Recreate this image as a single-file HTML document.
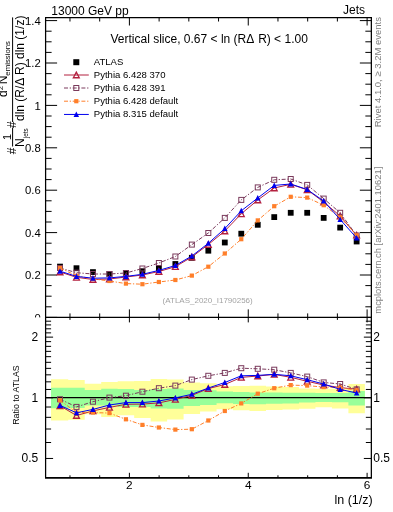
<!DOCTYPE html><html><head><meta charset="utf-8"><style>html,body{margin:0;padding:0;background:#fff;width:393px;height:512px;overflow:hidden}svg{display:block;will-change:transform}text{font-family:"Liberation Sans",sans-serif}</style></head><body><svg width="393" height="512" viewBox="0 0 393 512"><defs><clipPath id="c1"><rect x="45.6" y="17.5" width="325.75" height="299.9"/></clipPath><clipPath id="c2"><rect x="45.6" y="317.4" width="325.75" height="160.40000000000003"/></clipPath></defs><path d="M45.6,317.40h11.5M371.35,317.40h-11.5M45.6,306.80h6M371.35,306.80h-6M45.6,296.20h6M371.35,296.20h-6M45.6,285.60h6M371.35,285.60h-6M45.6,275.00h11.5M371.35,275.00h-11.5M45.6,264.40h6M371.35,264.40h-6M45.6,253.80h6M371.35,253.80h-6M45.6,243.20h6M371.35,243.20h-6M45.6,232.60h11.5M371.35,232.60h-11.5M45.6,222.00h6M371.35,222.00h-6M45.6,211.40h6M371.35,211.40h-6M45.6,200.80h6M371.35,200.80h-6M45.6,190.20h11.5M371.35,190.20h-11.5M45.6,179.60h6M371.35,179.60h-6M45.6,169.00h6M371.35,169.00h-6M45.6,158.40h6M371.35,158.40h-6M45.6,147.80h11.5M371.35,147.80h-11.5M45.6,137.20h6M371.35,137.20h-6M45.6,126.60h6M371.35,126.60h-6M45.6,116.00h6M371.35,116.00h-6M45.6,105.40h11.5M371.35,105.40h-11.5M45.6,94.80h6M371.35,94.80h-6M45.6,84.20h6M371.35,84.20h-6M45.6,73.60h6M371.35,73.60h-6M45.6,63.00h11.5M371.35,63.00h-11.5M45.6,52.40h6M371.35,52.40h-6M45.6,41.80h6M371.35,41.80h-6M45.6,31.20h6M371.35,31.20h-6M45.6,20.60h11.5M371.35,20.60h-11.5M69.97,17.5v4M69.97,317.4v-4M99.69,17.5v4M99.69,317.4v-4M129.40,17.5v8M129.40,317.4v-8M159.11,17.5v4M159.11,317.4v-4M188.82,17.5v4M188.82,317.4v-4M218.54,17.5v4M218.54,317.4v-4M248.25,17.5v8M248.25,317.4v-8M277.96,17.5v4M277.96,317.4v-4M307.68,17.5v4M307.68,317.4v-4M337.39,17.5v4M337.39,317.4v-4M367.10,17.5v8M367.10,317.4v-8" stroke="#000" stroke-width="1" fill="none"/><text x="40.8" y="321.60" font-size="11.3" text-anchor="end">0</text><text x="40.8" y="279.20" font-size="11.3" text-anchor="end">0.2</text><text x="40.8" y="236.80" font-size="11.3" text-anchor="end">0.4</text><text x="40.8" y="194.40" font-size="11.3" text-anchor="end">0.6</text><text x="40.8" y="152.00" font-size="11.3" text-anchor="end">0.8</text><text x="40.8" y="109.60" font-size="11.3" text-anchor="end">1</text><text x="40.8" y="67.20" font-size="11.3" text-anchor="end">1.2</text><text x="40.8" y="24.80" font-size="11.3" text-anchor="end">1.4</text><text x="51.3" y="14.6" font-size="12">13000 GeV pp</text><text x="365" y="13.7" font-size="12" text-anchor="end">Jets</text><text x="110.5" y="42.8" font-size="12">Vertical slice, 0.67 &lt; ln (RΔ<tspan dx="1.2"> </tspan>R) &lt; 1.00</text><text x="162.6" y="302.9" font-size="8" fill="#a3a3a3">(ATLAS_2020_I1790256)</text><text x="93.8" y="64.90" font-size="9.55">ATLAS</text><text x="93.8" y="77.70" font-size="9.55">Pythia 6.428 370</text><text x="93.8" y="90.70" font-size="9.55">Pythia 6.428 391</text><text x="93.8" y="103.90" font-size="9.55">Pythia 6.428 default</text><text x="93.8" y="117.15" font-size="9.55">Pythia 8.315 default</text><rect x="73.30" y="59.20" width="6" height="6" fill="#000"/><line x1="64" y1="75.0" x2="88.8" y2="75.0" stroke="#b3203f" stroke-width="1.0"/><polygon points="76.30,72.10 79.25,77.75 73.35,77.75" fill="none" stroke="#b3203f" stroke-width="1.3"/><line x1="64" y1="88.0" x2="88.8" y2="88.0" stroke="#7a3a5c" stroke-width="1.0" stroke-dasharray="4,1.7,1.3,1.7"/><rect x="73.80" y="85.50" width="5" height="5" fill="none" stroke="#7a3a5c" stroke-width="1.0"/><line x1="64" y1="101.2" x2="88.8" y2="101.2" stroke="#ff7f2a" stroke-width="1.0" stroke-dasharray="4,1.7,1.3,1.7"/><rect x="74.20" y="99.10" width="4.2" height="4.2" fill="#ff7f2a"/><line x1="64" y1="114.45" x2="88.8" y2="114.45" stroke="#0000ee" stroke-width="1.0"/><polygon points="76.30,111.45 79.05,116.95 73.55,116.95" fill="#0000ee"/><rect x="57.10" y="263.70" width="5.8" height="5.8" fill="#000"/><rect x="73.58" y="265.30" width="5.8" height="5.8" fill="#000"/><rect x="90.06" y="269.20" width="5.8" height="5.8" fill="#000"/><rect x="106.54" y="271.10" width="5.8" height="5.8" fill="#000"/><rect x="123.02" y="270.10" width="5.8" height="5.8" fill="#000"/><rect x="139.50" y="268.30" width="5.8" height="5.8" fill="#000"/><rect x="155.98" y="265.40" width="5.8" height="5.8" fill="#000"/><rect x="172.46" y="261.10" width="5.8" height="5.8" fill="#000"/><rect x="188.94" y="254.90" width="5.8" height="5.8" fill="#000"/><rect x="205.42" y="247.80" width="5.8" height="5.8" fill="#000"/><rect x="221.90" y="239.60" width="5.8" height="5.8" fill="#000"/><rect x="238.38" y="230.80" width="5.8" height="5.8" fill="#000"/><rect x="254.86" y="221.90" width="5.8" height="5.8" fill="#000"/><rect x="271.34" y="214.20" width="5.8" height="5.8" fill="#000"/><rect x="287.82" y="209.90" width="5.8" height="5.8" fill="#000"/><rect x="304.30" y="209.90" width="5.8" height="5.8" fill="#000"/><rect x="320.78" y="215.00" width="5.8" height="5.8" fill="#000"/><rect x="337.26" y="224.70" width="5.8" height="5.8" fill="#000"/><rect x="353.74" y="238.60" width="5.8" height="5.8" fill="#000"/><polyline points="60.00,272.00 76.48,277.30 92.96,279.50 109.44,279.00 125.92,277.00 142.40,275.00 158.88,271.50 175.36,266.70 191.84,257.00 208.32,244.50 224.80,231.00 241.28,213.80 257.76,200.00 274.24,188.00 290.72,184.30 307.20,189.80 323.68,202.00 340.16,216.00 356.64,235.20" fill="none" stroke="#b3203f" stroke-width="1.0"  clip-path="url(#c1)"/><polygon points="60.00,269.10 62.95,274.75 57.05,274.75" fill="none" stroke="#b3203f" stroke-width="1.3"/><polygon points="76.48,274.40 79.43,280.05 73.53,280.05" fill="none" stroke="#b3203f" stroke-width="1.3"/><polygon points="92.96,276.60 95.91,282.25 90.01,282.25" fill="none" stroke="#b3203f" stroke-width="1.3"/><polygon points="109.44,276.10 112.39,281.75 106.49,281.75" fill="none" stroke="#b3203f" stroke-width="1.3"/><polygon points="125.92,274.10 128.87,279.75 122.97,279.75" fill="none" stroke="#b3203f" stroke-width="1.3"/><polygon points="142.40,272.10 145.35,277.75 139.45,277.75" fill="none" stroke="#b3203f" stroke-width="1.3"/><polygon points="158.88,268.60 161.83,274.25 155.93,274.25" fill="none" stroke="#b3203f" stroke-width="1.3"/><polygon points="175.36,263.80 178.31,269.45 172.41,269.45" fill="none" stroke="#b3203f" stroke-width="1.3"/><polygon points="191.84,254.10 194.79,259.75 188.89,259.75" fill="none" stroke="#b3203f" stroke-width="1.3"/><polygon points="208.32,241.60 211.27,247.25 205.37,247.25" fill="none" stroke="#b3203f" stroke-width="1.3"/><polygon points="224.80,228.10 227.75,233.75 221.85,233.75" fill="none" stroke="#b3203f" stroke-width="1.3"/><polygon points="241.28,210.90 244.23,216.55 238.33,216.55" fill="none" stroke="#b3203f" stroke-width="1.3"/><polygon points="257.76,197.10 260.71,202.75 254.81,202.75" fill="none" stroke="#b3203f" stroke-width="1.3"/><polygon points="274.24,185.10 277.19,190.75 271.29,190.75" fill="none" stroke="#b3203f" stroke-width="1.3"/><polygon points="290.72,181.40 293.67,187.05 287.77,187.05" fill="none" stroke="#b3203f" stroke-width="1.3"/><polygon points="307.20,186.90 310.15,192.55 304.25,192.55" fill="none" stroke="#b3203f" stroke-width="1.3"/><polygon points="323.68,199.10 326.63,204.75 320.73,204.75" fill="none" stroke="#b3203f" stroke-width="1.3"/><polygon points="340.16,213.10 343.11,218.75 337.21,218.75" fill="none" stroke="#b3203f" stroke-width="1.3"/><polygon points="356.64,232.30 359.59,237.95 353.69,237.95" fill="none" stroke="#b3203f" stroke-width="1.3"/><polyline points="60.00,268.00 76.48,272.70 92.96,274.00 109.44,274.00 125.92,273.00 142.40,268.50 158.88,263.00 175.36,256.50 191.84,244.60 208.32,233.00 224.80,217.90 241.28,199.90 257.76,187.40 274.24,179.80 290.72,179.00 307.20,184.90 323.68,198.60 340.16,212.80 356.64,235.50" fill="none" stroke="#7a3a5c" stroke-width="1.0" stroke-dasharray="4,1.7,1.3,1.7" clip-path="url(#c1)"/><rect x="57.50" y="265.50" width="5" height="5" fill="none" stroke="#7a3a5c" stroke-width="1.0"/><rect x="73.98" y="270.20" width="5" height="5" fill="none" stroke="#7a3a5c" stroke-width="1.0"/><rect x="90.46" y="271.50" width="5" height="5" fill="none" stroke="#7a3a5c" stroke-width="1.0"/><rect x="106.94" y="271.50" width="5" height="5" fill="none" stroke="#7a3a5c" stroke-width="1.0"/><rect x="123.42" y="270.50" width="5" height="5" fill="none" stroke="#7a3a5c" stroke-width="1.0"/><rect x="139.90" y="266.00" width="5" height="5" fill="none" stroke="#7a3a5c" stroke-width="1.0"/><rect x="156.38" y="260.50" width="5" height="5" fill="none" stroke="#7a3a5c" stroke-width="1.0"/><rect x="172.86" y="254.00" width="5" height="5" fill="none" stroke="#7a3a5c" stroke-width="1.0"/><rect x="189.34" y="242.10" width="5" height="5" fill="none" stroke="#7a3a5c" stroke-width="1.0"/><rect x="205.82" y="230.50" width="5" height="5" fill="none" stroke="#7a3a5c" stroke-width="1.0"/><rect x="222.30" y="215.40" width="5" height="5" fill="none" stroke="#7a3a5c" stroke-width="1.0"/><rect x="238.78" y="197.40" width="5" height="5" fill="none" stroke="#7a3a5c" stroke-width="1.0"/><rect x="255.26" y="184.90" width="5" height="5" fill="none" stroke="#7a3a5c" stroke-width="1.0"/><rect x="271.74" y="177.30" width="5" height="5" fill="none" stroke="#7a3a5c" stroke-width="1.0"/><rect x="288.22" y="176.50" width="5" height="5" fill="none" stroke="#7a3a5c" stroke-width="1.0"/><rect x="304.70" y="182.40" width="5" height="5" fill="none" stroke="#7a3a5c" stroke-width="1.0"/><rect x="321.18" y="196.10" width="5" height="5" fill="none" stroke="#7a3a5c" stroke-width="1.0"/><rect x="337.66" y="210.30" width="5" height="5" fill="none" stroke="#7a3a5c" stroke-width="1.0"/><rect x="354.14" y="233.00" width="5" height="5" fill="none" stroke="#7a3a5c" stroke-width="1.0"/><polyline points="60.00,268.00 76.48,275.80 92.96,278.90 109.44,281.00 125.92,283.60 142.40,284.20 158.88,282.00 175.36,280.00 191.84,275.60 208.32,266.70 224.80,253.50 241.28,239.20 257.76,220.40 274.24,206.20 290.72,196.80 307.20,197.60 323.68,205.20 340.16,217.30 356.64,235.30" fill="none" stroke="#ff7f2a" stroke-width="1.0" stroke-dasharray="4,1.7,1.3,1.7" clip-path="url(#c1)"/><rect x="57.90" y="265.90" width="4.2" height="4.2" fill="#ff7f2a"/><rect x="74.38" y="273.70" width="4.2" height="4.2" fill="#ff7f2a"/><rect x="90.86" y="276.80" width="4.2" height="4.2" fill="#ff7f2a"/><rect x="107.34" y="278.90" width="4.2" height="4.2" fill="#ff7f2a"/><rect x="123.82" y="281.50" width="4.2" height="4.2" fill="#ff7f2a"/><rect x="140.30" y="282.10" width="4.2" height="4.2" fill="#ff7f2a"/><rect x="156.78" y="279.90" width="4.2" height="4.2" fill="#ff7f2a"/><rect x="173.26" y="277.90" width="4.2" height="4.2" fill="#ff7f2a"/><rect x="189.74" y="273.50" width="4.2" height="4.2" fill="#ff7f2a"/><rect x="206.22" y="264.60" width="4.2" height="4.2" fill="#ff7f2a"/><rect x="222.70" y="251.40" width="4.2" height="4.2" fill="#ff7f2a"/><rect x="239.18" y="237.10" width="4.2" height="4.2" fill="#ff7f2a"/><rect x="255.66" y="218.30" width="4.2" height="4.2" fill="#ff7f2a"/><rect x="272.14" y="204.10" width="4.2" height="4.2" fill="#ff7f2a"/><rect x="288.62" y="194.70" width="4.2" height="4.2" fill="#ff7f2a"/><rect x="305.10" y="195.50" width="4.2" height="4.2" fill="#ff7f2a"/><rect x="321.58" y="203.10" width="4.2" height="4.2" fill="#ff7f2a"/><rect x="338.06" y="215.20" width="4.2" height="4.2" fill="#ff7f2a"/><rect x="354.54" y="233.20" width="4.2" height="4.2" fill="#ff7f2a"/><polyline points="60.00,271.20 76.48,276.40 92.96,278.20 109.44,277.90 125.92,276.40 142.40,274.30 158.88,270.40 175.36,265.50 191.84,256.00 208.32,243.30 224.80,228.60 241.28,210.80 257.76,198.00 274.24,185.40 290.72,184.00 307.20,189.50 323.68,201.00 340.16,219.50 356.64,238.00" fill="none" stroke="#0000ee" stroke-width="1.0"  clip-path="url(#c1)"/><polygon points="60.00,268.20 62.75,273.70 57.25,273.70" fill="#0000ee"/><polygon points="76.48,273.40 79.23,278.90 73.73,278.90" fill="#0000ee"/><polygon points="92.96,275.20 95.71,280.70 90.21,280.70" fill="#0000ee"/><polygon points="109.44,274.90 112.19,280.40 106.69,280.40" fill="#0000ee"/><polygon points="125.92,273.40 128.67,278.90 123.17,278.90" fill="#0000ee"/><polygon points="142.40,271.30 145.15,276.80 139.65,276.80" fill="#0000ee"/><polygon points="158.88,267.40 161.63,272.90 156.13,272.90" fill="#0000ee"/><polygon points="175.36,262.50 178.11,268.00 172.61,268.00" fill="#0000ee"/><polygon points="191.84,253.00 194.59,258.50 189.09,258.50" fill="#0000ee"/><polygon points="208.32,240.30 211.07,245.80 205.57,245.80" fill="#0000ee"/><polygon points="224.80,225.60 227.55,231.10 222.05,231.10" fill="#0000ee"/><polygon points="241.28,207.80 244.03,213.30 238.53,213.30" fill="#0000ee"/><polygon points="257.76,195.00 260.51,200.50 255.01,200.50" fill="#0000ee"/><polygon points="274.24,182.40 276.99,187.90 271.49,187.90" fill="#0000ee"/><polygon points="290.72,181.00 293.47,186.50 287.97,186.50" fill="#0000ee"/><polygon points="307.20,186.50 309.95,192.00 304.45,192.00" fill="#0000ee"/><polygon points="323.68,198.00 326.43,203.50 320.93,203.50" fill="#0000ee"/><polygon points="340.16,216.50 342.91,222.00 337.41,222.00" fill="#0000ee"/><polygon points="356.64,235.00 359.39,240.50 353.89,240.50" fill="#0000ee"/><rect x="0" y="317.4" width="393" height="194.60000000000002" fill="#fff"/><path d="M51.00,379.20 L68.24,379.20 L68.24,379.90 L84.72,379.90 L84.72,383.80 L101.20,383.80 L101.20,381.90 L117.68,381.90 L117.68,381.20 L134.16,381.20 L134.16,380.90 L150.64,380.90 L150.64,378.90 L167.12,378.90 L167.12,379.60 L183.60,379.60 L183.60,382.50 L200.08,382.50 L200.08,383.20 L216.56,383.20 L216.56,386.30 L233.04,386.30 L233.04,386.10 L249.52,386.10 L249.52,385.80 L266.00,385.80 L266.00,386.40 L282.48,386.40 L282.48,386.90 L298.96,386.90 L298.96,388.40 L315.44,388.40 L315.44,388.70 L331.92,388.70 L331.92,388.70 L348.40,388.70 L348.40,384.10 L364.88,384.10 L364.88,413.30 L348.40,413.30 L348.40,408.40 L331.92,408.40 L331.92,407.20 L315.44,407.20 L315.44,408.70 L298.96,408.70 L298.96,409.50 L282.48,409.50 L282.48,410.00 L266.00,410.00 L266.00,411.00 L249.52,411.00 L249.52,410.30 L233.04,410.30 L233.04,409.30 L216.56,409.30 L216.56,411.50 L200.08,411.50 L200.08,414.10 L183.60,414.10 L183.60,419.60 L167.12,419.60 L167.12,421.40 L150.64,421.40 L150.64,418.00 L134.16,418.00 L134.16,415.30 L117.68,415.30 L117.68,417.00 L101.20,417.00 L101.20,414.20 L84.72,414.20 L84.72,419.80 L68.24,419.80 L68.24,420.50 L51.00,420.50Z" fill="#ffff99"/><path d="M51.00,387.70 L68.24,387.70 L68.24,387.70 L84.72,387.70 L84.72,390.00 L101.20,390.00 L101.20,388.80 L117.68,388.80 L117.68,389.10 L134.16,389.10 L134.16,390.00 L150.64,390.00 L150.64,389.10 L167.12,389.10 L167.12,388.50 L183.60,388.50 L183.60,390.00 L200.08,390.00 L200.08,390.20 L216.56,390.20 L216.56,391.60 L233.04,391.60 L233.04,392.10 L249.52,392.10 L249.52,392.50 L266.00,392.50 L266.00,392.50 L282.48,392.50 L282.48,392.70 L298.96,392.70 L298.96,392.80 L315.44,392.80 L315.44,393.00 L331.92,393.00 L331.92,393.00 L348.40,393.00 L348.40,391.00 L364.88,391.00 L364.88,405.40 L348.40,405.40 L348.40,402.30 L331.92,402.30 L331.92,401.90 L315.44,401.90 L315.44,402.60 L298.96,402.60 L298.96,403.40 L282.48,403.40 L282.48,403.70 L266.00,403.70 L266.00,404.20 L249.52,404.20 L249.52,403.90 L233.04,403.90 L233.04,403.20 L216.56,403.20 L216.56,404.90 L200.08,404.90 L200.08,406.00 L183.60,406.00 L183.60,408.70 L167.12,408.70 L167.12,408.40 L150.64,408.40 L150.64,406.90 L134.16,406.90 L134.16,406.90 L117.68,406.90 L117.68,405.50 L101.20,405.50 L101.20,405.60 L84.72,405.60 L84.72,408.10 L68.24,408.10 L68.24,408.30 L51.00,408.30Z" fill="#99ff99"/><line x1="45.6" y1="397.6" x2="371.35" y2="397.6" stroke="#000" stroke-width="1.05"/><path d="M45.6,458.46h7.5M371.35,458.46h-7.5M45.6,397.80h7.5M371.35,397.80h-7.5M45.6,337.14h7.5M371.35,337.14h-7.5M45.6,442.50h5.5M371.35,442.50h-5.5M45.6,429.01h5.5M371.35,429.01h-5.5M45.6,417.33h5.5M371.35,417.33h-5.5M45.6,407.02h5.5M371.35,407.02h-5.5M45.6,389.46h5.5M371.35,389.46h-5.5M45.6,381.84h5.5M371.35,381.84h-5.5M45.6,374.84h5.5M371.35,374.84h-5.5M45.6,368.36h5.5M371.35,368.36h-5.5M45.6,362.32h5.5M371.35,362.32h-5.5M45.6,356.67h5.5M371.35,356.67h-5.5M45.6,351.36h5.5M371.35,351.36h-5.5M45.6,346.36h5.5M371.35,346.36h-5.5M45.6,341.63h5.5M371.35,341.63h-5.5M45.6,332.87h5.5M371.35,332.87h-5.5M45.6,328.80h5.5M371.35,328.80h-5.5M45.6,324.91h5.5M371.35,324.91h-5.5M45.6,321.19h5.5M371.35,321.19h-5.5M69.97,317.4v2.5M69.97,477.8v-2.5M99.69,317.4v2.5M99.69,477.8v-2.5M129.40,317.4v5M129.40,477.8v-5M159.11,317.4v2.5M159.11,477.8v-2.5M188.82,317.4v2.5M188.82,477.8v-2.5M218.54,317.4v2.5M218.54,477.8v-2.5M248.25,317.4v5M248.25,477.8v-5M277.96,317.4v2.5M277.96,477.8v-2.5M307.68,317.4v2.5M307.68,477.8v-2.5M337.39,317.4v2.5M337.39,477.8v-2.5M367.10,317.4v5M367.10,477.8v-5" stroke="#000" stroke-width="1" fill="none"/><text x="38.3" y="340.94" font-size="12" text-anchor="end">2</text><text x="373.3" y="340.94" font-size="12">2</text><text x="38.3" y="401.60" font-size="12" text-anchor="end">1</text><text x="373.3" y="401.60" font-size="12">1</text><text x="38.3" y="462.26" font-size="12" text-anchor="end">0.5</text><text x="373.3" y="462.26" font-size="12">0.5</text><text x="129.40" y="488.6" font-size="11.8" text-anchor="middle">2</text><text x="248.25" y="488.6" font-size="11.8" text-anchor="middle">4</text><text x="367.10" y="488.6" font-size="11.8" text-anchor="middle">6</text><polyline points="60.00,405.80 76.48,415.50 92.96,410.90 109.44,407.40 125.92,404.30 142.40,404.10 158.88,402.90 175.36,399.40 191.84,395.40 208.32,388.60 224.80,384.50 241.28,377.40 257.76,376.00 274.24,374.40 290.72,377.30 307.20,381.30 323.68,385.00 340.16,387.60 356.64,389.20" fill="none" stroke="#b3203f" stroke-width="1.0"  clip-path="url(#c2)"/><polygon points="60.00,402.90 62.95,408.55 57.05,408.55" fill="none" stroke="#b3203f" stroke-width="1.3"/><polygon points="76.48,412.60 79.43,418.25 73.53,418.25" fill="none" stroke="#b3203f" stroke-width="1.3"/><polygon points="92.96,408.00 95.91,413.65 90.01,413.65" fill="none" stroke="#b3203f" stroke-width="1.3"/><polygon points="109.44,404.50 112.39,410.15 106.49,410.15" fill="none" stroke="#b3203f" stroke-width="1.3"/><polygon points="125.92,401.40 128.87,407.05 122.97,407.05" fill="none" stroke="#b3203f" stroke-width="1.3"/><polygon points="142.40,401.20 145.35,406.85 139.45,406.85" fill="none" stroke="#b3203f" stroke-width="1.3"/><polygon points="158.88,400.00 161.83,405.65 155.93,405.65" fill="none" stroke="#b3203f" stroke-width="1.3"/><polygon points="175.36,396.50 178.31,402.15 172.41,402.15" fill="none" stroke="#b3203f" stroke-width="1.3"/><polygon points="191.84,392.50 194.79,398.15 188.89,398.15" fill="none" stroke="#b3203f" stroke-width="1.3"/><polygon points="208.32,385.70 211.27,391.35 205.37,391.35" fill="none" stroke="#b3203f" stroke-width="1.3"/><polygon points="224.80,381.60 227.75,387.25 221.85,387.25" fill="none" stroke="#b3203f" stroke-width="1.3"/><polygon points="241.28,374.50 244.23,380.15 238.33,380.15" fill="none" stroke="#b3203f" stroke-width="1.3"/><polygon points="257.76,373.10 260.71,378.75 254.81,378.75" fill="none" stroke="#b3203f" stroke-width="1.3"/><polygon points="274.24,371.50 277.19,377.15 271.29,377.15" fill="none" stroke="#b3203f" stroke-width="1.3"/><polygon points="290.72,374.40 293.67,380.05 287.77,380.05" fill="none" stroke="#b3203f" stroke-width="1.3"/><polygon points="307.20,378.40 310.15,384.05 304.25,384.05" fill="none" stroke="#b3203f" stroke-width="1.3"/><polygon points="323.68,382.10 326.63,387.75 320.73,387.75" fill="none" stroke="#b3203f" stroke-width="1.3"/><polygon points="340.16,384.70 343.11,390.35 337.21,390.35" fill="none" stroke="#b3203f" stroke-width="1.3"/><polygon points="356.64,386.30 359.59,391.95 353.69,391.95" fill="none" stroke="#b3203f" stroke-width="1.3"/><polyline points="60.00,399.25 76.48,406.90 92.96,401.70 109.44,397.60 125.92,395.70 142.40,391.70 158.88,388.20 175.36,385.60 191.84,379.60 208.32,375.80 224.80,372.90 241.28,368.20 257.76,368.80 274.24,369.70 290.72,372.90 307.20,376.60 323.68,382.40 340.16,384.00 356.64,389.40" fill="none" stroke="#7a3a5c" stroke-width="1.0" stroke-dasharray="4,1.7,1.3,1.7" clip-path="url(#c2)"/><rect x="57.50" y="396.75" width="5" height="5" fill="none" stroke="#7a3a5c" stroke-width="1.0"/><rect x="73.98" y="404.40" width="5" height="5" fill="none" stroke="#7a3a5c" stroke-width="1.0"/><rect x="90.46" y="399.20" width="5" height="5" fill="none" stroke="#7a3a5c" stroke-width="1.0"/><rect x="106.94" y="395.10" width="5" height="5" fill="none" stroke="#7a3a5c" stroke-width="1.0"/><rect x="123.42" y="393.20" width="5" height="5" fill="none" stroke="#7a3a5c" stroke-width="1.0"/><rect x="139.90" y="389.20" width="5" height="5" fill="none" stroke="#7a3a5c" stroke-width="1.0"/><rect x="156.38" y="385.70" width="5" height="5" fill="none" stroke="#7a3a5c" stroke-width="1.0"/><rect x="172.86" y="383.10" width="5" height="5" fill="none" stroke="#7a3a5c" stroke-width="1.0"/><rect x="189.34" y="377.10" width="5" height="5" fill="none" stroke="#7a3a5c" stroke-width="1.0"/><rect x="205.82" y="373.30" width="5" height="5" fill="none" stroke="#7a3a5c" stroke-width="1.0"/><rect x="222.30" y="370.40" width="5" height="5" fill="none" stroke="#7a3a5c" stroke-width="1.0"/><rect x="238.78" y="365.70" width="5" height="5" fill="none" stroke="#7a3a5c" stroke-width="1.0"/><rect x="255.26" y="366.30" width="5" height="5" fill="none" stroke="#7a3a5c" stroke-width="1.0"/><rect x="271.74" y="367.20" width="5" height="5" fill="none" stroke="#7a3a5c" stroke-width="1.0"/><rect x="288.22" y="370.40" width="5" height="5" fill="none" stroke="#7a3a5c" stroke-width="1.0"/><rect x="304.70" y="374.10" width="5" height="5" fill="none" stroke="#7a3a5c" stroke-width="1.0"/><rect x="321.18" y="379.90" width="5" height="5" fill="none" stroke="#7a3a5c" stroke-width="1.0"/><rect x="337.66" y="381.50" width="5" height="5" fill="none" stroke="#7a3a5c" stroke-width="1.0"/><rect x="354.14" y="386.90" width="5" height="5" fill="none" stroke="#7a3a5c" stroke-width="1.0"/><polyline points="60.00,400.30 76.48,412.50 92.96,412.50 109.44,413.10 125.92,419.30 142.40,424.90 158.88,427.50 175.36,429.60 191.84,429.20 208.32,420.50 224.80,411.00 241.28,403.40 257.76,393.70 274.24,388.20 290.72,385.10 307.20,385.60 323.68,387.10 340.16,387.60 356.64,390.30" fill="none" stroke="#ff7f2a" stroke-width="1.0" stroke-dasharray="4,1.7,1.3,1.7" clip-path="url(#c2)"/><rect x="57.90" y="398.20" width="4.2" height="4.2" fill="#ff7f2a"/><rect x="74.38" y="410.40" width="4.2" height="4.2" fill="#ff7f2a"/><rect x="90.86" y="410.40" width="4.2" height="4.2" fill="#ff7f2a"/><rect x="107.34" y="411.00" width="4.2" height="4.2" fill="#ff7f2a"/><rect x="123.82" y="417.20" width="4.2" height="4.2" fill="#ff7f2a"/><rect x="140.30" y="422.80" width="4.2" height="4.2" fill="#ff7f2a"/><rect x="156.78" y="425.40" width="4.2" height="4.2" fill="#ff7f2a"/><rect x="173.26" y="427.50" width="4.2" height="4.2" fill="#ff7f2a"/><rect x="189.74" y="427.10" width="4.2" height="4.2" fill="#ff7f2a"/><rect x="206.22" y="418.40" width="4.2" height="4.2" fill="#ff7f2a"/><rect x="222.70" y="408.90" width="4.2" height="4.2" fill="#ff7f2a"/><rect x="239.18" y="401.30" width="4.2" height="4.2" fill="#ff7f2a"/><rect x="255.66" y="391.60" width="4.2" height="4.2" fill="#ff7f2a"/><rect x="272.14" y="386.10" width="4.2" height="4.2" fill="#ff7f2a"/><rect x="288.62" y="383.00" width="4.2" height="4.2" fill="#ff7f2a"/><rect x="305.10" y="383.50" width="4.2" height="4.2" fill="#ff7f2a"/><rect x="321.58" y="385.00" width="4.2" height="4.2" fill="#ff7f2a"/><rect x="338.06" y="385.50" width="4.2" height="4.2" fill="#ff7f2a"/><rect x="354.54" y="388.20" width="4.2" height="4.2" fill="#ff7f2a"/><polyline points="60.00,405.40 76.48,412.80 92.96,409.40 109.44,405.00 125.92,402.60 142.40,402.60 158.88,401.00 175.36,397.90 191.84,394.30 208.32,388.00 224.80,382.50 241.28,375.80 257.76,375.40 274.24,374.30 290.72,375.80 307.20,379.70 323.68,384.00 340.16,389.40 356.64,393.00" fill="none" stroke="#0000ee" stroke-width="1.0"  clip-path="url(#c2)"/><polygon points="60.00,402.40 62.75,407.90 57.25,407.90" fill="#0000ee"/><polygon points="76.48,409.80 79.23,415.30 73.73,415.30" fill="#0000ee"/><polygon points="92.96,406.40 95.71,411.90 90.21,411.90" fill="#0000ee"/><polygon points="109.44,402.00 112.19,407.50 106.69,407.50" fill="#0000ee"/><polygon points="125.92,399.60 128.67,405.10 123.17,405.10" fill="#0000ee"/><polygon points="142.40,399.60 145.15,405.10 139.65,405.10" fill="#0000ee"/><polygon points="158.88,398.00 161.63,403.50 156.13,403.50" fill="#0000ee"/><polygon points="175.36,394.90 178.11,400.40 172.61,400.40" fill="#0000ee"/><polygon points="191.84,391.30 194.59,396.80 189.09,396.80" fill="#0000ee"/><polygon points="208.32,385.00 211.07,390.50 205.57,390.50" fill="#0000ee"/><polygon points="224.80,379.50 227.55,385.00 222.05,385.00" fill="#0000ee"/><polygon points="241.28,372.80 244.03,378.30 238.53,378.30" fill="#0000ee"/><polygon points="257.76,372.40 260.51,377.90 255.01,377.90" fill="#0000ee"/><polygon points="274.24,371.30 276.99,376.80 271.49,376.80" fill="#0000ee"/><polygon points="290.72,372.80 293.47,378.30 287.97,378.30" fill="#0000ee"/><polygon points="307.20,376.70 309.95,382.20 304.45,382.20" fill="#0000ee"/><polygon points="323.68,381.00 326.43,386.50 320.93,386.50" fill="#0000ee"/><polygon points="340.16,386.40 342.91,391.90 337.41,391.90" fill="#0000ee"/><polygon points="356.64,390.00 359.39,395.50 353.89,395.50" fill="#0000ee"/><path d="M45.6,17.5H371.35V477.8H45.6Z M45.6,317.4H371.35" stroke="#000" stroke-width="1.25" fill="none"/><path d="M45.0,477.8H371.95000000000005" stroke="#000" stroke-width="1.5" fill="none"/><text x="372.7" y="503.6" font-size="12.5" text-anchor="end">ln (1/z)</text><text transform="translate(18.9,395) rotate(-90)" font-size="8.8" text-anchor="middle">Ratio to ATLAS</text><text transform="translate(380.5,17) rotate(-90)" font-size="9.5" text-anchor="end" fill="#808080">Rivet 4.1.0, ≥ 3.2M events</text><text transform="translate(381,166.7) rotate(-90)" font-size="9.4" text-anchor="end" fill="#808080">mcplots.cern.ch [arXiv:2401.10621]</text><g transform="translate(0,0)"><line x1="12.6" y1="17.4" x2="12.6" y2="122" stroke="#000" stroke-width="1"/><text transform="translate(24,121) rotate(-90)" font-size="12">dln (R/Δ R) dln (1/z)</text><text transform="translate(7,97) rotate(-90)" font-size="12">d<tspan font-size="8" dy="-4">2</tspan><tspan dy="4" dx="1.5">N</tspan><tspan font-size="7.8" dy="3.4">emissions</tspan></text><line x1="12.6" y1="127.5" x2="12.6" y2="146.5" stroke="#000" stroke-width="1"/><text transform="translate(11,140) rotate(-90)" font-size="11">1</text><text transform="translate(24,147) rotate(-90)" font-size="12">N<tspan font-size="6.3" dy="4.3" dx="0.3">jets</tspan></text><text transform="translate(16.3,154.2) rotate(-90)" font-size="12">#</text><text transform="translate(16,128) rotate(-90)" font-size="12">#</text></g></svg></body></html>
